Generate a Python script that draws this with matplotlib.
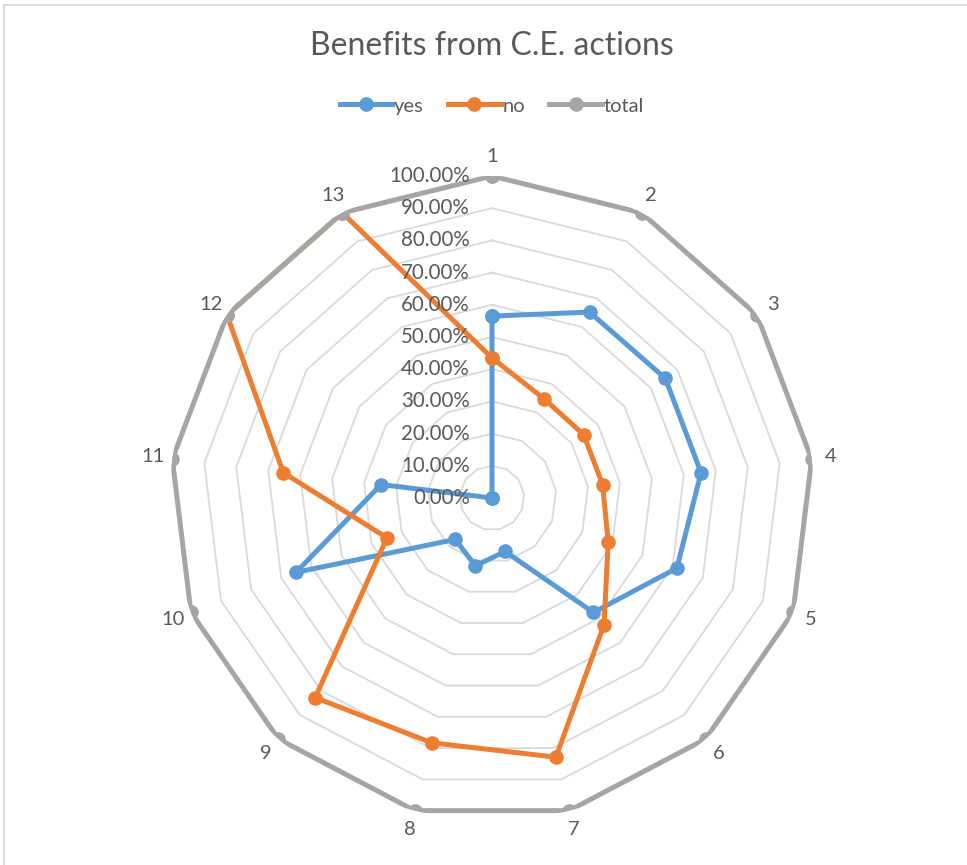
import numpy as np
import matplotlib
matplotlib.use("Agg")
import matplotlib.pyplot as plt
from matplotlib.lines import Line2D

categories = ["1", "2", "3", "4", "5", "6", "7", "8", "9", "10", "11", "12", "13"]
yes = [56.5, 65.2, 65.4, 65.4, 61.4, 47.5, 17.1, 21.7, 17.2, 65.1, 34.7, 0.0, 0.0]
no = [43.5, 34.8, 34.6, 34.6, 38.6, 52.5, 82.9, 78.3, 82.8, 34.9, 65.3, 100.0, 100.0]
total = [100.0] * 13
series_names = ["yes", "no", "total"]
tick_values = [0, 10, 20, 30, 40, 50, 60, 70, 80, 90, 100]
tick_labels = ["%.2f%%" % v for v in tick_values]

colors = ["#5B9BD5", "#ED7D31", "#A5A5A5"]
text_color = "#595959"
grid_color = "#D9D9D9"
plt.rcParams['font.family'] = ['Lato', 'DejaVu Sans']

W, H = 967, 865
fig = plt.figure(figsize=(W / 100, H / 100), dpi=100)
cx, cy, R = 492, 498, 322
ax = fig.add_axes([(cx - R) / W, (H - cy - R) / H, 2 * R / W, 2 * R / H], projection="polar")
ax.set_theta_zero_location("N")
ax.set_theta_direction(-1)
ax.set_ylim(0, 100)
ax.grid(False)
ax.spines["polar"].set_visible(False)
ax.set_xticks([])
ax.set_yticks([])
ax.patch.set_alpha(0)

n = len(categories)
theta = np.arange(n) * 2 * np.pi / n
theta_c = np.append(theta, theta[0])

for v in tick_values[1:]:
    ax.plot(theta_c, [v] * (n + 1), color=grid_color, lw=1.3, zorder=1)

lw, ms = 3.6, 9.5
for vals, c in zip([yes, no, total], colors):
    vv = np.append(vals, vals[0])
    ax.plot(theta_c, vv, color=c, lw=lw, marker="o", markersize=ms, zorder=3,
            solid_joinstyle="round")

for t, lab in zip(theta, categories):
    ax.text(t, 106, lab, ha="center", va="center", fontsize=14.5, color=text_color)

# radial tick labels, right-aligned left of spoke 1
for v, lab in zip(tick_values, tick_labels):
    y = (H - cy + R * v / 100) / H
    fig.text((cx - 22) / W, y, lab, ha="right", va="center", fontsize=14.8, color=text_color)

fig.text(cx / W, 1 - 46 / H, "Benefits from C.E. actions", ha="center", va="center",
         fontsize=23, color=text_color)

handles = [Line2D([0], [0], color=c, lw=lw, marker="o", markersize=ms) for c in colors]
leg = fig.legend(handles, series_names, loc="center", bbox_to_anchor=(cx / W, 1 - 106 / H),
                 ncol=3, frameon=False, fontsize=14.5, handlelength=2.6, handletextpad=0.1,
                 columnspacing=1.2, labelcolor=text_color)

# chart-area border (top and left visible)
fig.add_artist(Line2D([4 / W, 1], [1 - 5 / H, 1 - 5 / H], color=grid_color, lw=1.3))
fig.add_artist(Line2D([4 / W, 4 / W], [0, 1 - 5 / H], color=grid_color, lw=1.3))

fig.savefig("out.png", dpi=100)
